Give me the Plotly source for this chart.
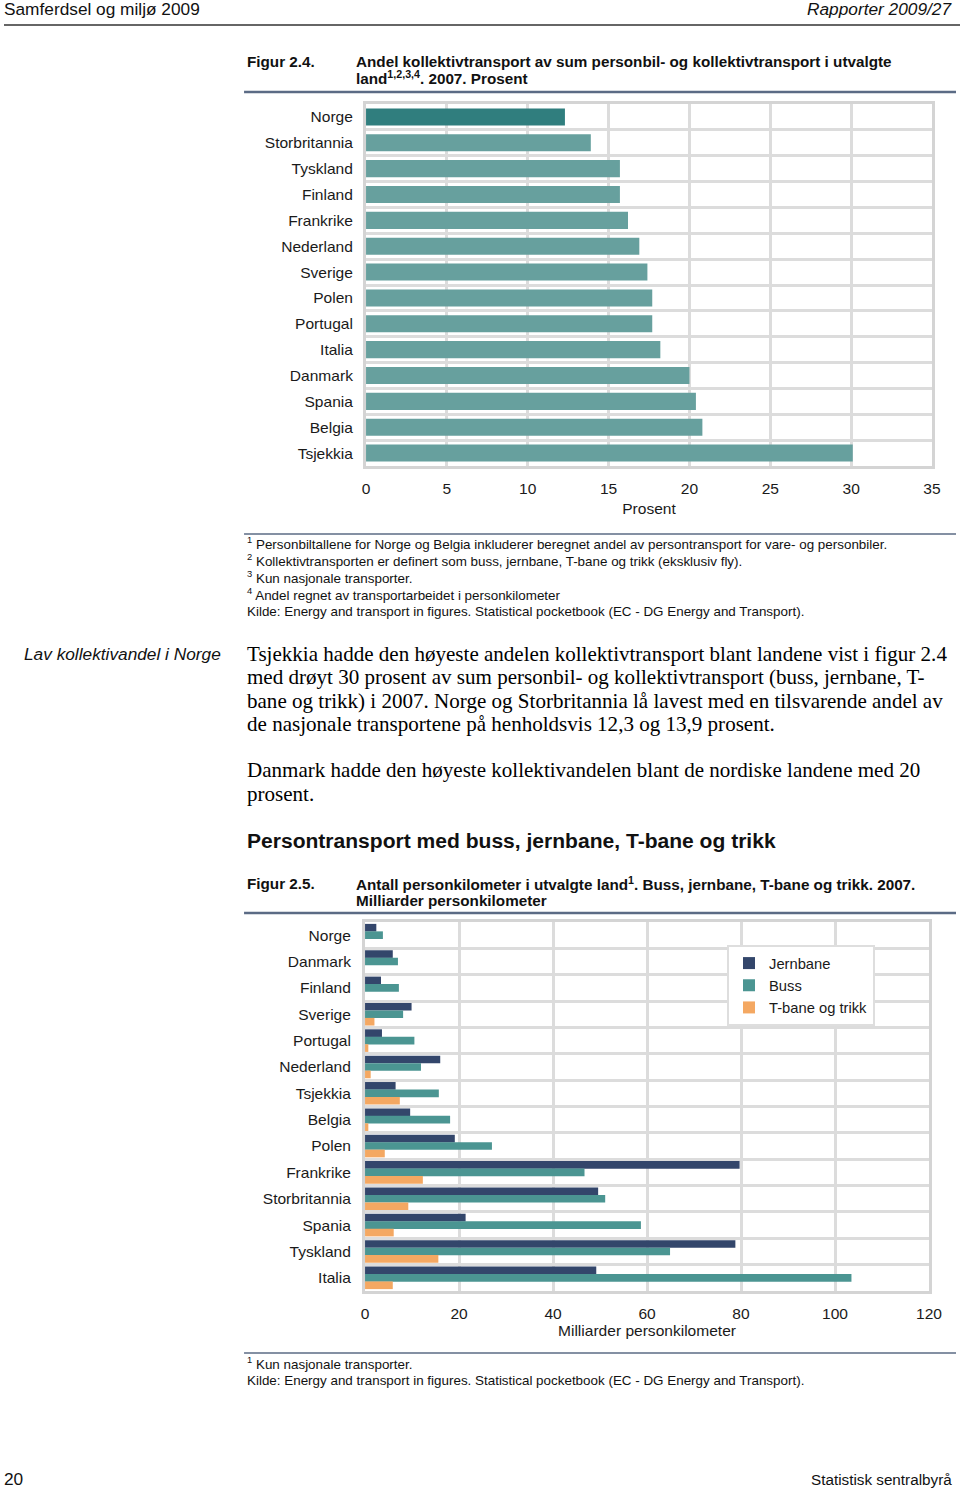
import plotly.graph_objects as go

# ---------- Data: Figur 2.4 ----------
countries_24 = ["Norge", "Storbritannia", "Tyskland", "Finland", "Frankrike", "Nederland",
                "Sverige", "Polen", "Portugal", "Italia", "Danmark", "Spania", "Belgia", "Tsjekkia"]
share_24 = [12.3, 13.9, 15.7, 15.7, 16.2, 16.9, 17.4, 17.7, 17.7, 18.2, 20.0, 20.4, 20.8, 30.1]
ticks_24 = [0, 5, 10, 15, 20, 25, 30, 35]

# ---------- Data: Figur 2.5 ----------
countries_25 = ["Norge", "Danmark", "Finland", "Sverige", "Portugal", "Nederland", "Tsjekkia",
                "Belgia", "Polen", "Frankrike", "Storbritannia", "Spania", "Tyskland", "Italia"]
jernbane = [2.4, 5.9, 3.4, 9.9, 3.6, 16.0, 6.5, 9.6, 19.1, 79.7, 49.6, 21.4, 78.8, 49.2]
buss = [3.8, 7.0, 7.2, 8.1, 10.5, 11.9, 15.7, 18.1, 27.0, 46.7, 51.1, 58.7, 64.9, 103.5]
tbane = [0, 0, 0, 2.0, 0.7, 1.2, 7.4, 0.7, 4.2, 12.3, 9.2, 6.1, 15.6, 5.9]
ticks_25 = [0, 20, 40, 60, 80, 100, 120]
series_names = ["Jernbane", "Buss", "T-bane og trikk"]
series_colors = ["#33466b", "#4b9592", "#f4a862"]

SANS = "Liberation Sans, Arial, sans-serif"
SERIF = "Liberation Serif, Times New Roman, serif"
GRID = "#dcdcdc"
RULE = "#5b6b85"

# page geometry (horizontal compensation for the capture)
W, H = 973, 1489
S, OFF = 0.9826, 4.0
K = 1.017  # font width compensation


def py(px):
    return 1 - px / H


def pxx(px):
    return (px / S - OFF) / W


fig = go.Figure()

# Figure 2.4 bars
colors_24 = ["#307e7e" if c == "Norge" else "#67a09e" for c in countries_24]
fig.add_trace(go.Bar(
    x=share_24, y=countries_24, orientation="h", marker=dict(color=colors_24, line=dict(width=0)),
    xaxis="x", yaxis="y", showlegend=False, hoverinfo="x+y", width=0.66))

# Figure 2.5 bars
for name, vals, col in zip(series_names, [jernbane, buss, tbane], series_colors):
    fig.add_trace(go.Bar(
        x=vals, y=countries_25, orientation="h", name=name,
        marker=dict(color=col, line=dict(width=0)),
        xaxis="x2", yaxis="y2", offsetgroup=name, width=0.29))

TF = 15.3 * K
axis_common = dict(showgrid=True, gridcolor=GRID, gridwidth=3, zeroline=False,
                   showline=True, linecolor="#d4d4d4", linewidth=3, mirror=True,
                   ticks="", tickfont=dict(family=SANS, size=TF, color="#1a1a1a"))

fig.update_layout(
    width=W, height=H,
    margin=dict(l=0, r=0, t=0, b=0),
    paper_bgcolor="white", plot_bgcolor="white",
    barmode="group",
    bargap=0.15,
    showlegend=True,
    legend=dict(x=pxx(727), y=py(945), xanchor="left", yanchor="top",
                bgcolor="white", bordercolor="#dedede", borderwidth=2,
                font=dict(family=SANS, size=14.5 * K, color="#1a1a1a"),
                traceorder="normal", itemwidth=30, tracegroupgap=0),
    xaxis=dict(domain=[pxx(366), pxx(932)], anchor="y", range=[0, 35],
               tickmode="array", tickvals=ticks_24, ticklabelstandoff=6,
               title=dict(text="Prosent", font=dict(family=SANS, size=TF, color="#1a1a1a"), standoff=8),
               **axis_common),
    yaxis=dict(domain=[py(466), py(104)], anchor="x", type="category",
               categoryorder="array", categoryarray=countries_24, autorange="reversed",
               tickson="boundaries", ticklabelstandoff=7, **axis_common),
    xaxis2=dict(domain=[pxx(365), pxx(929)], anchor="y2", range=[0, 120],
                tickmode="array", tickvals=ticks_25, ticklabelstandoff=6,
                title=dict(text="Milliarder personkilometer", font=dict(family=SANS, size=TF, color="#1a1a1a"), standoff=0),
                **axis_common),
    yaxis2=dict(domain=[py(1291), py(922)], anchor="x2", type="category",
                categoryorder="array", categoryarray=countries_25, autorange="reversed",
                tickson="boundaries", ticklabelstandoff=8, **axis_common),
)

annotations = []


def txt(x, y, text, size=13, family=SANS, color="#111111", xanchor="left", bold=False, italic=False):
    if bold:
        text = "<b>" + text + "</b>"
    if italic:
        text = "<i>" + text + "</i>"
    if xanchor == "left":
        x = x - 2
    annotations.append(dict(x=pxx(x), y=py(y), xref="paper", yref="paper", text=text,
                            showarrow=False, xanchor=xanchor, yanchor="middle",
                            font=dict(family=family, size=size * K, color=color), align="left"))


# Header / footer
txt(4, 9, "Samferdsel og miljø 2009", size=17)
txt(954, 9, "Rapporter 2009/27", size=17, xanchor="right", italic=True)
txt(4, 1479, "20", size=17)
txt(954, 1479, "Statistisk sentralbyrå", size=15, xanchor="right")

# Figure 2.4 titles
TS = 15
txt(247, 61, "Figur 2.4.", size=TS, bold=True)
txt(356, 61, "Andel kollektivtransport av sum personbil- og kollektivtransport i utvalgte", size=TS, bold=True)
txt(356, 78, "land<sup>1,2,3,4</sup>. 2007. Prosent", size=TS, bold=True)

# Footnotes 2.4
FS = 13.2
fn = ["<sup>1</sup> Personbiltallene for Norge og Belgia inkluderer beregnet andel av persontransport for vare- og personbiler.",
      "<sup>2</sup> Kollektivtransporten er definert som buss, jernbane, T-bane og trikk (eksklusiv fly).",
      "<sup>3</sup> Kun nasjonale transporter.",
      "<sup>4</sup> Andel regnet av transportarbeidet i personkilometer",
      "Kilde: Energy and transport in figures. Statistical pocketbook (EC - DG Energy and Transport)."]
for i, t in enumerate(fn):
    txt(247, 543 + i * 17, t, size=FS)

# Body text
BS = 20.7
txt(24, 654, "Lav kollektivandel i Norge", size=17, italic=True)
body = ["Tsjekkia hadde den høyeste andelen kollektivtransport blant landene vist i figur 2.4",
        "med drøyt 30 prosent av sum personbil- og kollektivtransport (buss, jernbane, T-",
        "bane og trikk) i 2007. Norge og Storbritannia lå lavest med en tilsvarende andel av",
        "de nasjonale transportene på henholdsvis 12,3 og 13,9 prosent."]
for i, t in enumerate(body):
    txt(247, 654 + i * 23.3, t, size=BS, family=SERIF, color="#000000")
txt(247, 770, "Danmark hadde den høyeste kollektivandelen blant de nordiske landene med 20", size=BS, family=SERIF, color="#000000")
txt(247, 794, "prosent.", size=BS, family=SERIF, color="#000000")

txt(247, 840, "Persontransport med buss, jernbane, T-bane og trikk", size=20.7, bold=True)

# Figure 2.5 titles
txt(247, 883, "Figur 2.5.", size=TS, bold=True)
txt(356, 883, "Antall personkilometer i utvalgte land<sup>1</sup>. Buss, jernbane, T-bane og trikk. 2007.", size=TS, bold=True)
txt(356, 900, "Milliarder personkilometer", size=TS, bold=True)

# Footnotes 2.5
txt(247, 1363, "<sup>1</sup> Kun nasjonale transporter.", size=FS)
txt(247, 1380, "Kilde: Energy and transport in figures. Statistical pocketbook (EC - DG Energy and Transport).", size=FS)

fig.update_layout(annotations=annotations)

# Rules
shapes = []


def hline(y, x0, x1, color, width):
    shapes.append(dict(type="line", xref="paper", yref="paper", x0=max(pxx(x0), 0), x1=min(pxx(x1), 1),
                       y0=py(y), y1=py(y), line=dict(color=color, width=width)))


hline(25, 0, 960, "#333333", 1.5)
hline(92, 244, 956, RULE, 2.5)
hline(534, 244, 956, RULE, 1.5)
hline(913, 244, 956, RULE, 2.5)
hline(1353, 244, 956, RULE, 1.5)
fig.update_layout(shapes=shapes)

fig.write_html("out.html",
               config={"displayModeBar": False},
               post_script="document.documentElement.style.overflow='hidden';"
                           "document.body.style.overflow='hidden';"
                           "document.body.style.margin='0px';"
                           "document.documentElement.style.margin='0px';")
